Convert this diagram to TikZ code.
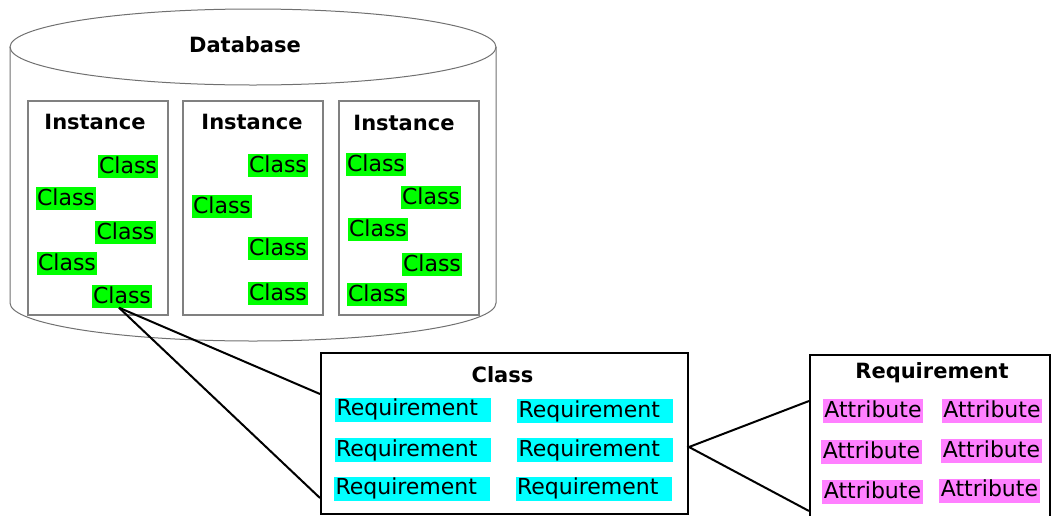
\documentclass[tikz,border=0pt]{standalone}
\usepackage{fontspec}
\setmainfont{DejaVu Sans}
\usepackage{tikz}
\definecolor{clsgreen}{HTML}{00FF00}
\definecolor{reqcyan}{HTML}{00FFFF}
\definecolor{attpink}{HTML}{FF80FF}
\definecolor{dbgray}{HTML}{707070}
\definecolor{instgray}{HTML}{808080}
\begin{document}
\begin{tikzpicture}[x=1pt,y=-1pt,
  every node/.style={font=\fontsize{22}{26}\selectfont},
  title/.style={font=\fontsize{21}{25}\selectfont\bfseries,inner sep=0pt},
  inst/.style={draw=instgray,line width=1.8pt,minimum width=140pt,minimum height=214pt},
  bigbox/.style={draw,line width=2pt},
  cls/.style={fill=clsgreen,inner xsep=1.5pt,inner ysep=1.5pt,text height=17pt,text depth=3pt},
  req/.style={fill=reqcyan,inner xsep=1.5pt,inner ysep=1pt,text width=153pt,align=left,text height=17pt,text depth=5pt},
  att/.style={fill=attpink,inner xsep=1.5pt,inner ysep=1pt,text height=17pt,text depth=5pt},
  link/.style={line width=2pt}]
\useasboundingbox (0,0) rectangle (1053,515);
% database cylinder
\draw[dbgray,line width=1pt] (253,47) ellipse (243 and 38);
\draw[dbgray,line width=1pt] (10,47) -- (10,303) arc[start angle=180,end angle=0,x radius=243,y radius=38] -- (496,47);
\node[title] (DB) at (245,45) {Database};
% instances
\node[inst] (I1) at (98,208) {};
\node[inst] (I2) at (253,208) {};
\node[inst] (I3) at (409,208) {};
\node[title] (T1) at (95,122) {Instance};
\node[title] (T2) at (252,122) {Instance};
\node[title] (T3) at (404,123) {Instance};
\node[cls] (C11) at (128,166) {Class};
\node[cls] (C12) at (66,198) {Class};
\node[cls] (C13) at (125.5,232) {Class};
\node[cls] (C14) at (67,263) {Class};
\node[cls] (C15) at (122,296) {Class};
\node[cls] (C21) at (278,165) {Class};
\node[cls] (C22) at (222,206) {Class};
\node[cls] (C23) at (278,248) {Class};
\node[cls] (C24) at (278,293) {Class};
\node[cls] (C31) at (376,164) {Class};
\node[cls] (C32) at (431,197) {Class};
\node[cls] (C33) at (378,229) {Class};
\node[cls] (C34) at (432,264) {Class};
\node[cls] (C35) at (377,294) {Class};
% class box
\node[bigbox,minimum width=367pt,minimum height=161pt] (CL) at (504.5,433.5) {};
\node[title] (TC) at (502.5,375) {Class};
\node[req] (R11) at (413,409.5) {Requirement};
\node[req] (R12) at (412.5,450) {Requirement};
\node[req] (R13) at (412,488.5) {Requirement};
\node[req] (R21) at (595,411) {Requirement};
\node[req] (R22) at (595,450) {Requirement};
\node[req] (R23) at (593.5,488.5) {Requirement};
% requirement box
\node[bigbox,minimum width=240pt,minimum height=180pt] (RQ) at (930,445) {};
\node[title] (TR) at (932,373) {Requirement};
\node[att] (A11) at (873,411) {Attribute};
\node[att] (A12) at (871.5,452) {Attribute};
\node[att] (A13) at (872.5,492) {Attribute};
\node[att] (A21) at (992,411) {Attribute};
\node[att] (A22) at (991.5,451) {Attribute};
\node[att] (A23) at (989.5,490.5) {Attribute};
% zoom lines
\draw[link] ([xshift=-3pt]C15.south) -- ([yshift=-42pt]CL.north west);
\draw[link] ([xshift=-3pt]C15.south) -- ([yshift=17pt]CL.south west);
\draw[link] ([yshift=-47pt]RQ.north west) -- ([yshift=-13.5pt]CL.east) -- ([yshift=-157pt]RQ.north west);
\end{tikzpicture}
\end{document}
